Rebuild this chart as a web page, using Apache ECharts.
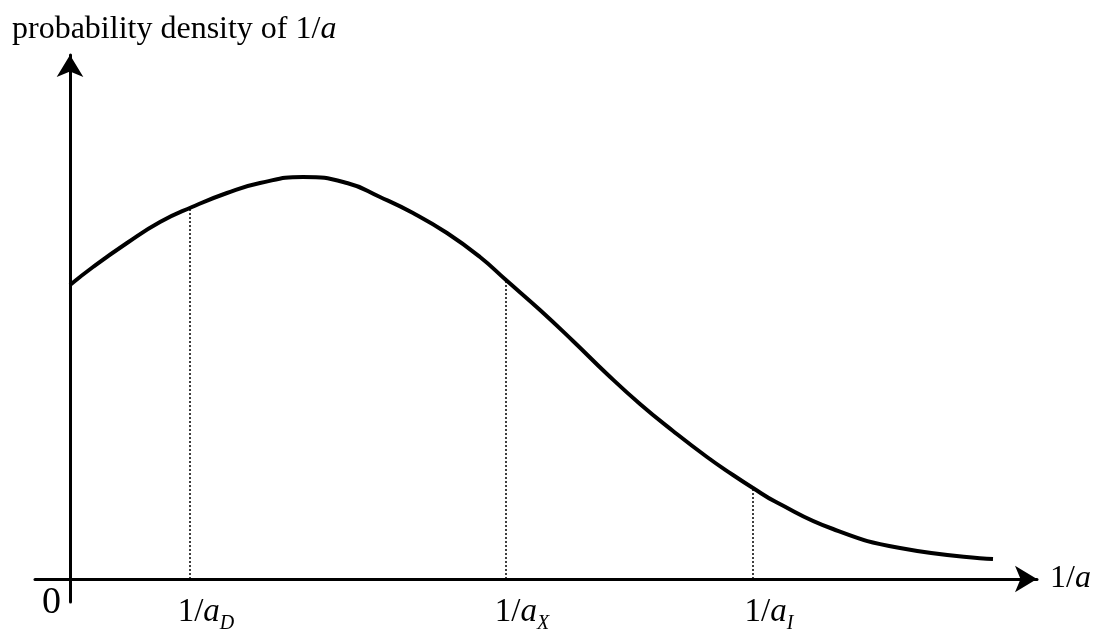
<!DOCTYPE html>
<html>
<head>
<meta charset="utf-8">
<script src="https://cdn.jsdelivr.net/npm/echarts@6/dist/echarts.min.js"></script>
<style>
html, body { margin: 0; padding: 0; background: #fff; }
#chart { width: 1097px; height: 634px; }
</style>
</head>
<body>
<div id="chart"></div>
<script>
// density curve (x from the origin, y above the axis)
const curveX = [0, 23, 57, 90, 122, 157, 190, 233, 277, 310, 343, 377, 410, 436, 470, 503, 537, 570, 603, 637, 663, 683, 706, 763, 830, 923];
const curveY = [294, 312, 336, 357, 372, 386, 396, 402, 396, 382, 366, 346, 322, 299, 269, 238, 205, 175, 148, 122, 104, 91, 77, 50, 31, 20];

// dotted drop lines at 1/aD, 1/aX, 1/aI
const markX = [120, 436, 683];
const markTop = [371, 299, 91];

// x axis labels
const tickValues = [120, 436, 683];
const tickLabels = ['{n|1/}{i|a}{sub|D}', '{n|1/}{i|a}{sub|X}', '{n|1/}{i|a}{sub|I}'];

const serif = '"Liberation Serif", "Times New Roman", serif';

const chart = echarts.init(document.getElementById('chart'));

const dropSeries = markX.map(function (x, i) {
    return {
        type: 'line',
        data: [[x, 0], [x, markTop[i]]],
        symbol: 'none',
        silent: true,
        z: 1,
        lineStyle: { color: '#000', width: 1.5, type: [2, 2] }
    };
});

const axisLineStyle = {
    onZero: true,
    symbol: ['none', 'arrow'],
    symbolSize: [20, 22],
    lineStyle: { color: '#000', width: 3 }
};

const option = {
    animation: false,
    backgroundColor: '#fff',
    title: {
        text: 'probability density of 1/{i|a}',
        left: 12,
        top: 10,
        padding: 0,
        textStyle: {
            fontFamily: serif,
            fontSize: 32,
            fontWeight: 'normal',
            color: '#000',
            lineHeight: 40,
            rich: {
                i: { fontFamily: serif, fontStyle: 'italic', fontSize: 32, lineHeight: 40, color: '#000' }
            }
        }
    },
    grid: { left: 35, right: 60, top: 55, bottom: 32, outerBoundsMode: 'none' },
    xAxis: {
        type: 'value',
        min: -35,
        max: 967,
        axisLine: axisLineStyle,
        axisTick: { show: false },
        splitLine: { show: false },
        axisLabel: {
            customValues: tickValues,
            formatter: function (v) { return tickLabels[tickValues.indexOf(v)]; },
            margin: -12,
            padding: [0, 0, 0, 32],
            color: '#000',
            fontFamily: serif,
            fontSize: 33,
            rich: {
                n: { fontFamily: serif, fontSize: 33, lineHeight: 44, color: '#000' },
                i: { fontFamily: serif, fontStyle: 'italic', fontSize: 33, lineHeight: 44, color: '#000' },
                sub: { fontFamily: serif, fontStyle: 'italic', fontSize: 20, lineHeight: 20, verticalAlign: 'bottom', color: '#000' }
            }
        },
        name: '{n|1/}{i|a}',
        nameLocation: 'end',
        nameGap: 13,
        nameTextStyle: {
            rich: {
                n: { fontFamily: serif, fontSize: 32, color: '#000' },
                i: { fontFamily: serif, fontStyle: 'italic', fontSize: 32, color: '#000' }
            }
        }
    },
    yAxis: {
        type: 'value',
        min: -23,
        max: 524,
        axisLine: axisLineStyle,
        axisTick: { show: false },
        splitLine: { show: false },
        // the origin "0" sits below-left of the axes
        axisLabel: {
            customValues: [0],
            formatter: function (v) { return String(v); },
            margin: -26,
            verticalAlign: 'top',
            lineHeight: 48,
            color: '#000',
            fontFamily: serif,
            fontSize: 38
        }
    },
    series: [{
        type: 'line',
        data: curveX.map(function (x, i) { return [x, curveY[i]]; }),
        smooth: true,
        symbol: 'none',
        silent: true,
        z: 3,
        lineStyle: { color: '#000', width: 4, cap: 'butt' }
    }].concat(dropSeries)
};

chart.setOption(option);
</script>
</body>
</html>
